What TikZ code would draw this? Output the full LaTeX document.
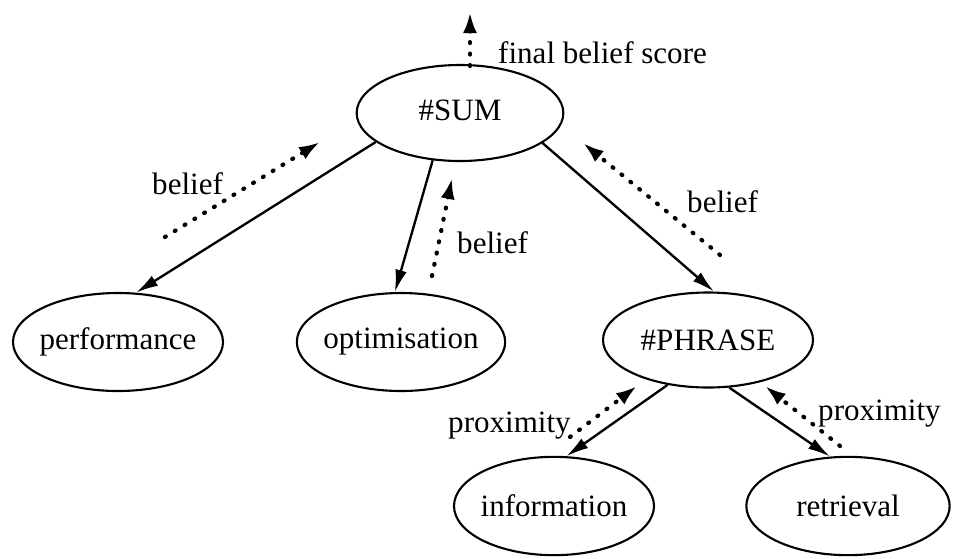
\documentclass[tikz,border=0pt]{standalone}
\usepackage{fontspec}
\setmainfont{Liberation Serif}
\usetikzlibrary{shapes.geometric,arrows.meta}
\begin{document}
\begin{tikzpicture}[x=0.03cm,y=-0.03cm,
  font=\fontsize{26.5}{30}\selectfont,
  term/.style={ellipse,draw,line width=1.8pt,inner sep=0pt,
    minimum width=6.25cm,minimum height=2.9cm},
  edge/.style={line width=2pt,-{Latex[length=19pt,width=10pt]}},
  flow/.style={line width=3.6pt,dash pattern=on 0.8pt off 9pt,line cap=round,
    -{Latex[length=18pt,width=12pt]}},
  tag/.style={anchor=base west,inner sep=0pt}]
\fill[white] (0,0) rectangle (961,558);
\useasboundingbox (0,0) rectangle (961,558);

% query tree nodes
\node[term,minimum width=6.2cm,minimum height=2.88cm,label={[yshift=2pt]center:\#SUM}] (sum) at (460,113) {};
\node[term,minimum width=6.3cm,minimum height=2.94cm,label={center:performance}] (perf) at (118,342) {};
\node[term,minimum width=6.25cm,minimum height=2.94cm,label={center:optimisation}] (opt) at (401,342) {};
\node[term,minimum width=6.3cm,minimum height=2.85cm,label={center:\#PHRASE}] (phrase) at (708,340) {};
\node[term,minimum width=6.0cm,minimum height=2.95cm,label={center:information}] (info) at (554,506) {};
\node[term,minimum width=6.1cm,minimum height=2.95cm,label={center:retrieval}] (retr) at (848,506) {};

% parent-to-child edges
\draw[edge] (sum.199) -- (perf.70);
\draw[edge] (sum.240) -- (opt.97);
\draw[edge] (sum.340) -- (phrase.83);
\draw[edge] (phrase.228) -- (info.76);
\draw[edge] (phrase.294) -- (retr.110);

% belief propagation (dotted, upwards)
\coordinate (fbA) at (470,66);   \coordinate (fbB) at (470,12);
\coordinate (blA) at (165,237);  \coordinate (blB) at (320,142);
\coordinate (bmA) at (432,276);  \coordinate (bmB) at (452,178);
\coordinate (brA) at (720,255);  \coordinate (brB) at (583,143);
\coordinate (plA) at (570,437);  \coordinate (plB) at (637,386);
\coordinate (prA) at (840,446);  \coordinate (prB) at (765,386);
\draw[flow] (fbA) -- (fbB);
\draw[flow] (blA) -- (blB);
\draw[flow] (bmA) -- (bmB);
\draw[flow] (brA) -- (brB);
\draw[flow] (plA) -- (plB);
\draw[flow] (prA) -- (prB);

% labels
\node[tag] (tfinal) at (498,63) {final belief score};
\node[tag] (tbl) at (152,194) {belief};
\node[tag] (tbm) at (457,253) {belief};
\node[tag] (tbr) at (687,212) {belief};
\node[tag] (tpl) at (448,432) {proximity};
\node[tag] (tpr) at (818,420) {proximity};
\end{tikzpicture}
\end{document}
